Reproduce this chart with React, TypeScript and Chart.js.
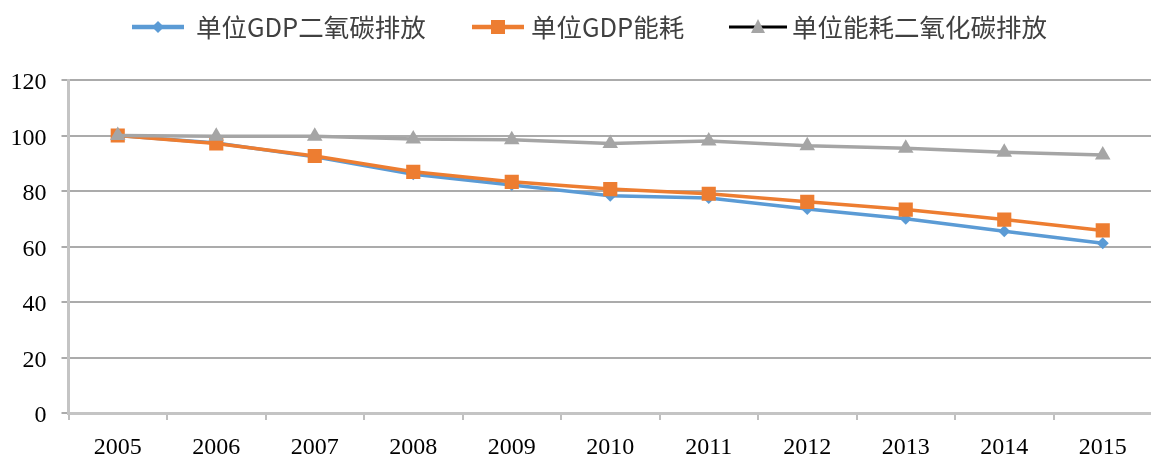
import React, { useEffect, useRef } from "react";
import { Chart, registerables } from "chart.js";

Chart.register(...registerables);

const categories = ["2005", "2006", "2007", "2008", "2009", "2010", "2011", "2012", "2013", "2014", "2015"];
const co2PerGdp = [100, 97.3, 92.3, 86.0, 82.2, 78.3, 77.5, 73.5, 70.0, 65.5, 61.2];
const energyPerGdp = [100, 97.1, 92.6, 86.9, 83.3, 80.7, 79.0, 76.1, 73.3, 69.7, 65.8];
const co2PerEnergy = [100, 99.7, 99.7, 98.7, 98.5, 97.1, 98.0, 96.3, 95.4, 94.0, 93.0];
const seriesNames = ["单位GDP二氧碳排放", "单位GDP能耗", "单位能耗二氧化碳排放"];
const yTicks = [0, 20, 40, 60, 80, 100, 120];

const BLUE = "#5b9bd5";
const ORANGE = "#ed7d31";
const GRAY = "#a5a5a5";

const legendPlugin = {
  id: "customLegend",
  afterDraw(chart: any) {
    const ctx = chart.ctx as CanvasRenderingContext2D;
    const y = 27;
    const items = [
      { x1: 132, x2: 184, tx: 196, line: BLUE, fill: BLUE, shape: "diamond" },
      { x1: 472, x2: 524, tx: 531, line: ORANGE, fill: ORANGE, shape: "square" },
      { x1: 729, x2: 787, tx: 792, line: "#000000", fill: GRAY, shape: "triangle" },
    ];
    ctx.save();
    items.forEach((it, i) => {
      ctx.strokeStyle = it.line;
      ctx.lineWidth = it.shape === "triangle" ? 3 : 4.5;
      ctx.beginPath();
      ctx.moveTo(it.x1, y);
      ctx.lineTo(it.x2, y);
      ctx.stroke();
      const cx = (it.x1 + it.x2) / 2;
      ctx.fillStyle = it.fill;
      ctx.beginPath();
      if (it.shape === "diamond") {
        ctx.moveTo(cx, y - 6);
        ctx.lineTo(cx + 6, y);
        ctx.lineTo(cx, y + 6);
        ctx.lineTo(cx - 6, y);
        ctx.closePath();
      } else if (it.shape === "square") {
        ctx.rect(cx - 7, y - 7, 14, 14);
      } else {
        ctx.moveTo(cx, y - 8);
        ctx.lineTo(cx + 7, y + 6);
        ctx.lineTo(cx - 7, y + 6);
        ctx.closePath();
      }
      ctx.fill();
      ctx.fillStyle = "#404040";
      ctx.font = "25.5px 'Noto Sans CJK SC'";
      ctx.textBaseline = "middle";
      ctx.textAlign = "left";
      ctx.fillText(seriesNames[i], it.tx, y);
    });
    ctx.restore();
  },
};

export default function App() {
  const ref = useRef<HTMLCanvasElement | null>(null);
  useEffect(() => {
    if (!ref.current) return;
    const chart = new Chart(ref.current, {
      type: "line",
      data: {
        labels: categories,
        datasets: [
          {
            label: seriesNames[0],
            data: co2PerGdp,
            borderColor: BLUE,
            backgroundColor: BLUE,
            borderWidth: 3.5,
            pointStyle: "rectRot",
            pointRadius: 6,
            pointBorderWidth: 0,
            pointBackgroundColor: BLUE,
            tension: 0,
            order: 3,
          },
          {
            label: seriesNames[1],
            data: energyPerGdp,
            borderColor: ORANGE,
            backgroundColor: ORANGE,
            borderWidth: 3.5,
            pointStyle: "rect",
            pointRadius: 10,
            pointBorderWidth: 0,
            pointBackgroundColor: ORANGE,
            tension: 0,
            order: 2,
          },
          {
            label: seriesNames[2],
            data: co2PerEnergy,
            borderColor: GRAY,
            backgroundColor: GRAY,
            borderWidth: 3.5,
            pointStyle: "triangle",
            pointRadius: 9,
            pointBorderWidth: 0,
            pointBackgroundColor: GRAY,
            tension: 0,
            order: 1,
          },
        ],
      },
      options: {
        responsive: false,
        animation: false,
        devicePixelRatio: 1,
        layout: { padding: { top: 80, left: 0, right: 0, bottom: 0 } },
        plugins: {
          legend: { display: false },
          tooltip: { enabled: false },
        },
        scales: {
          x: {
            type: "category",
            offset: true,
            grid: {
              offset: true,
              drawOnChartArea: false,
              drawTicks: true,
              tickLength: 7,
              color: "#bfbfbf",
              lineWidth: 2,
            },
            border: { color: "#c4c4c4", width: 3 },
            ticks: {
              color: "#000000",
              font: { family: "'Liberation Serif'", size: 24 },
              padding: 13,
              maxRotation: 0,
              autoSkip: false,
            },
            afterFit: (scale: any) => {
              scale.height = 41;
            },
          },
          y: {
            min: 0,
            max: 120,
            afterBuildTicks: (scale: any) => {
              scale.ticks = yTicks.map((v) => ({ value: v }));
            },
            grid: {
              color: "#ababab",
              lineWidth: 2,
              tickLength: 7,
              drawTicks: true,
            },
            border: { color: "#c4c4c4", width: 3 },
            ticks: {
              color: "#000000",
              font: { family: "'Liberation Serif'", size: 24 },
              padding: 15,
              labelOffset: 3,
            },
            afterFit: (scale: any) => {
              scale.width = 68.5;
            },
          },
        },
      },
      plugins: [legendPlugin],
    });
    return () => chart.destroy();
  }, []);
  return (
    <div style={{ position: "fixed", left: 0, top: 0, width: 1151, height: 454, overflow: "hidden", background: "#fff" }}>
      <canvas ref={ref} width={1162} height={454} style={{ width: 1162, height: 454, display: "block" }} />
    </div>
  );
}
